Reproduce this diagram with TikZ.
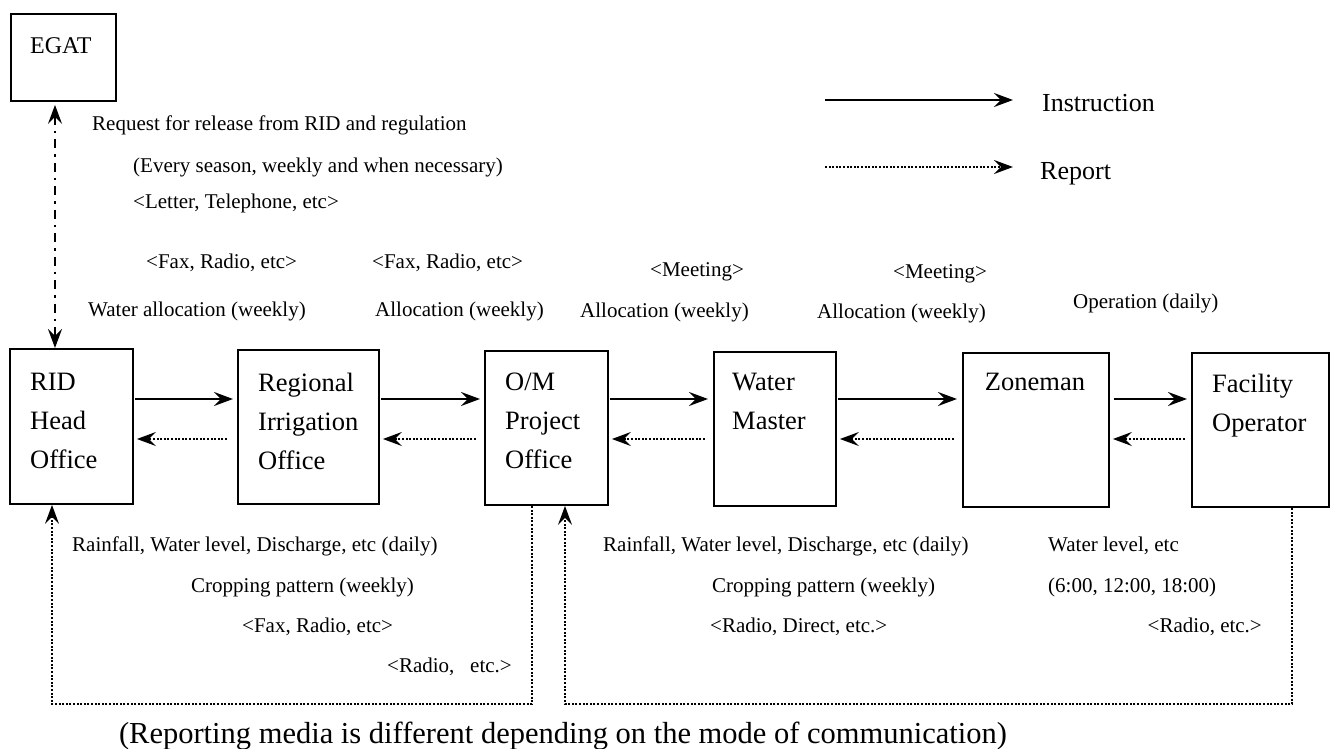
\documentclass[tikz,border=0pt]{standalone}
\usepackage{fontspec}
\setmainfont{Liberation Serif}
\usetikzlibrary{arrows.meta}
\tikzset{myhead/.tip={Stealth[length=19pt,width=14pt,inset=7pt]}}
\begin{document}
\begin{tikzpicture}[x=1pt,y=-1pt,
  box/.style={draw, line width=1.9pt, anchor=north west, inner sep=0pt},
  lbl/.style={font=\fontsize{26.5}{39}\selectfont, align=left, anchor=north west, inner sep=0pt},
  sm/.style={font=\fontsize{21}{25}\selectfont, anchor=base west, inner sep=0pt},
  big/.style={font=\fontsize{26}{30}\selectfont, anchor=base west, inner sep=0pt},
  instr/.style={line width=2pt, -{myhead}},
  rep/.style={line width=2pt, dash pattern=on 2pt off 1.6pt, -{myhead}},
  dd/.style={line width=2.2pt, dash pattern=on 9pt off 6pt on 2.5pt off 6pt, {myhead}-{myhead}}
]
\useasboundingbox (0,0) rectangle (1331,749);

% boxes
\node[box, minimum width=105pt, minimum height=87pt] (egat) at (10,13) {};
\node[box, minimum width=123pt, minimum height=155pt] (rid) at (9,348) {};
\node[box, minimum width=141pt, minimum height=154pt] (reg) at (237,349) {};
\node[box, minimum width=123pt, minimum height=154pt] (om) at (484,350) {};
\node[box, minimum width=122pt, minimum height=154pt] (wm) at (713,351) {};
\node[box, minimum width=146pt, minimum height=154pt] (zone) at (962,352) {};
\node[box, minimum width=137pt, minimum height=154pt] (fac) at (1191,352) {};

% box labels
\node[font=\fontsize{24}{28}\selectfont, anchor=base west, inner sep=0pt] (egatt) at (30,54) {EGAT};
\node[lbl] (ridt) at (30,373) {RID\\Head\\Office};
\node[lbl] (regt) at (258,373) {Regional\\Irrigation\\Office};
\node[lbl] (omt) at (505,373) {O/M\\Project\\Office};
\node[lbl] (wmt) at (732,373) {Water\\Master};
\node[lbl, anchor=north] (zonet) at (1035,373) {Zoneman};
\node[lbl] (fact) at (1212,374) {Facility\\Operator};

% rows for horizontal arrows
\coordinate (ya) at (0,399);
\coordinate (yb) at (0,439);

\draw[instr, shorten <=1pt, shorten >=4pt] (rid.east |- ya) -- (reg.west |- ya);
\draw[instr, shorten <=1pt, shorten >=4pt] (reg.east |- ya) -- (om.west |- ya);
\draw[instr, shorten <=1pt, shorten >=5pt] (om.east |- ya) -- (wm.west |- ya);
\draw[instr, shorten <=1pt, shorten >=5pt] (wm.east |- ya) -- (zone.west |- ya);
\draw[instr, shorten <=4pt, shorten >=4pt] (zone.east |- ya) -- (fac.west |- ya);

\draw[rep, shorten <=10pt, shorten >=3pt] (reg.west |- yb) -- (rid.east |- yb);
\draw[rep, shorten <=8pt, shorten >=3pt] (om.west |- yb) -- (reg.east |- yb);
\draw[rep, shorten <=8pt, shorten >=3pt] (wm.west |- yb) -- (om.east |- yb);
\draw[rep, shorten <=8pt, shorten >=3pt] (zone.west |- yb) -- (wm.east |- yb);
\draw[rep, shorten <=6pt, shorten >=3pt] (fac.west |- yb) -- (zone.east |- yb);

% EGAT link
\draw[dd, shorten <=3pt] ([xshift=45pt]egat.south west) -- ([xshift=46pt]rid.north west);

% top texts
\node[sm] (req) at (92,131) {Request for release from RID and regulation};
\node[sm] (every) at (133,173) {(Every season, weekly and when necessary)};
\node[sm] (letter) at (133,208) {<Letter, Telephone, etc>};
\node[sm] (fax1) at (146,268) {<Fax, Radio, etc>};
\node[sm] (fax2) at (372,268) {<Fax, Radio, etc>};
\node[sm, anchor=base] (meet1) at (697,276) {<Meeting>};
\node[sm, anchor=base] (meet2) at (940,278) {<Meeting>};
\node[sm] (alloc1) at (88,316) {Water allocation (weekly)};
\node[sm] (alloc2) at (375,316) {Allocation (weekly)};
\node[sm] (alloc3) at (580,317) {Allocation (weekly)};
\node[sm] (alloc4) at (817,318) {Allocation (weekly)};
\node[sm] (oper) at (1073,308) {Operation (daily)};

% legend
\coordinate (lia) at (825,100);
\coordinate (lib) at (1013,100);
\coordinate (lra) at (825,167);
\coordinate (lrb) at (1013,167);
\draw[instr] (lia) -- (lib);
\draw[rep] (lra) -- (lrb);
\node[big] (linstr) at (1042,112) {Instruction};
\node[big] (lrep) at (1040,179) {Report};

% bottom loops
\coordinate (botL) at (52,704);
\coordinate (botR) at (565,704);
\draw[rep] ([xshift=48pt]om.south west) |- (botL) -- ([xshift=43pt]rid.south west);
\draw[rep] ([xshift=101pt]fac.south west) |- (botR) -- ([xshift=81pt]om.south west);

% bottom texts
\node[sm] (rain1) at (72,551) {Rainfall, Water level, Discharge, etc (daily)};
\node[sm] (crop1) at (191,592) {Cropping pattern (weekly)};
\node[sm] (fax3) at (242,632) {<Fax, Radio, etc>};
\node[sm] (radio1) at (387,672) {<Radio,\ \ \ etc.>};
\node[sm] (rain2) at (603,551) {Rainfall, Water level, Discharge, etc (daily)};
\node[sm] (crop2) at (712,592) {Cropping pattern (weekly)};
\node[sm] (radio2) at (710,632) {<Radio, Direct, etc.>};
\node[sm] (wl) at (1048,551) {Water level, etc};
\node[sm] (times) at (1048,592) {(6:00, 12:00, 18:00)};
\node[sm, anchor=base east] (radio3) at (1262,632) {<Radio, etc.>};

\node[font=\fontsize{30.5}{34}\selectfont, anchor=base, inner sep=0pt] (cap) at (563,743) {(Reporting media is different depending on the mode of communication)};
\end{tikzpicture}
\end{document}
